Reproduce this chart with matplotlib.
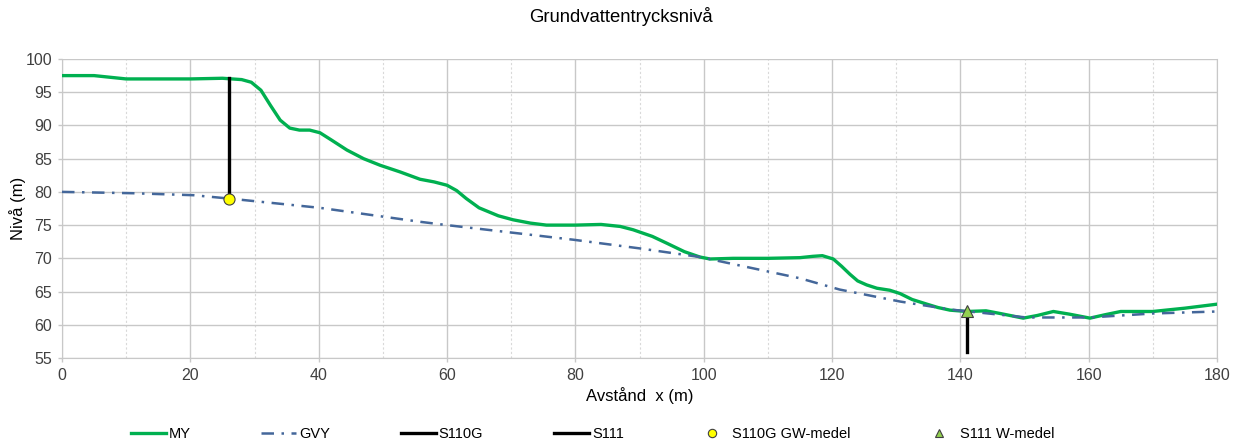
import matplotlib
matplotlib.use("Agg")
import matplotlib.pyplot as plt
from matplotlib.lines import Line2D

plt.rcParams['font.family'] = ['Liberation Sans', 'DejaVu Sans']

# MY (ground surface)
my_x = [0, 5, 10, 15, 20, 25, 28, 29.5, 31, 32.5, 34, 35.5, 37, 38.6, 40.2, 42, 44.4, 47, 49.6, 52.7, 55.8,
        58, 60, 61.5, 63, 65, 68, 70.3, 73, 75.5, 80, 84, 87, 89, 92, 94.2, 97, 99.4, 101, 104.6, 110, 115,
        117, 118.5, 120.2, 121.5, 122.8, 124, 125.4, 127, 129, 130.6, 132.5, 134.8, 136.5, 138.4, 141, 144, 146.2, 149.8,
        152, 154.5, 157, 160.2, 162.5, 165, 170, 175, 180]
my_y = [97.5, 97.5, 97.0, 97.0, 97.0, 97.1, 96.9, 96.5, 95.3, 93.0, 90.8, 89.6, 89.3, 89.3, 88.9, 87.8, 86.3, 85.0, 84.0, 83.0, 81.9,
        81.5, 81.0, 80.2, 79.0, 77.6, 76.4, 75.8, 75.3, 75.0, 75.0, 75.1, 74.8, 74.3, 73.3, 72.3, 71.0, 70.2, 69.9, 70.0, 70.0, 70.1,
        70.3, 70.4, 69.9, 68.8, 67.6, 66.6, 66.0, 65.5, 65.2, 64.7, 63.8, 63.1, 62.6, 62.2, 62.0, 62.1, 61.7, 61.0,
        61.4, 62.0, 61.6, 61.0, 61.5, 62.0, 62.0, 62.5, 63.1]

# GVY (groundwater level)
gvy_x = [0, 11, 20.5, 26, 40.2, 55.8, 60, 79.7, 90, 99.4, 115, 121.2, 130.6, 138.4, 150.3, 160.2, 170, 180]
gvy_y = [80.0, 79.8, 79.5, 79.0, 77.6, 75.5, 75.0, 72.8, 71.5, 70.2, 67.0, 65.3, 63.5, 62.3, 61.1, 61.1, 61.7, 62.0]

# Boreholes
s110g_x = [26, 26]
s110g_y = [79.0, 97.1]
s111_x = [141, 141]
s111_y = [55.9, 62.0]
s110g_gw_x = [26]
s110g_gw_y = [79.0]
s111_w_x = [141]
s111_w_y = [62.0]

x_ticks = [0, 20, 40, 60, 80, 100, 120, 140, 160, 180]
y_ticks = [55, 60, 65, 70, 75, 80, 85, 90, 95, 100]

fig = plt.figure(figsize=(12.42, 4.43), dpi=100)
ax = fig.add_axes([62/1242, 1-358/443, (1217-62)/1242, (358-59)/443])

ax.set_xlim(0, 180)
ax.set_ylim(55, 100)
ax.set_xticks(x_ticks)
ax.set_xticks(range(10, 180, 20), minor=True)
ax.set_yticks(y_ticks)
ax.grid(which='major', color='#c8c8c8', linewidth=1.0)
ax.grid(which='minor', axis='x', color='#d9d9d9', linewidth=0.8, linestyle=(0, (2, 2)))
ax.tick_params(which='major', length=3, width=1.0, color='#c8c8c8', labelsize=11.5,
               labelcolor='#404040', pad=4)
ax.tick_params(which='minor', length=0)
for s in ax.spines.values():
    s.set_color('#c8c8c8')
ax.spines['top'].set_visible(False)
ax.set_axisbelow(True)

ax.plot(my_x, my_y, color='#00b050', linewidth=2.4, solid_joinstyle='round', solid_capstyle='round', zorder=3)
ax.plot(gvy_x, gvy_y, color='#44679a', linewidth=1.8, linestyle=(0, (5, 3, 1, 3)), zorder=3)
ax.plot(s110g_x, s110g_y, color='black', linewidth=2.4, zorder=4)
ax.plot(s111_x, s111_y, color='black', linewidth=2.4, zorder=4)
ax.plot(s110g_gw_x, s110g_gw_y, linestyle='none', marker='o', markersize=8,
        markerfacecolor='#ffff00', markeredgecolor='#404040', markeredgewidth=0.8, zorder=5)
ax.plot(s111_w_x, s111_w_y, linestyle='none', marker='^', markersize=9,
        markerfacecolor='#92d050', markeredgecolor='#404040', markeredgewidth=0.8, zorder=5)

fig.text(621/1242, 1-17/443, 'Grundvattentrycksnivå', ha='center', va='center', fontsize=13.3, color='black')
ax.set_xlabel('Avstånd  x (m)', fontsize=12, color='black', labelpad=3)
ax.set_ylabel('Nivå (m)', fontsize=12, color='black', labelpad=0)

handles = [
    Line2D([], [], color='#00b050', linewidth=2.4),
    Line2D([], [], color='#44679a', linewidth=1.8, linestyle=(0, (5, 3, 1, 3))),
    Line2D([], [], color='black', linewidth=2.4),
    Line2D([], [], color='black', linewidth=2.4),
    Line2D([], [], linestyle='none', marker='o', markersize=6, markerfacecolor='#ffff00',
           markeredgecolor='#404040', markeredgewidth=0.8),
    Line2D([], [], linestyle='none', marker='^', markersize=6, markerfacecolor='#92d050',
           markeredgecolor='#404040', markeredgewidth=0.8),
]
labels = ['MY', 'GVY', 'S110G', 'S111', 'S110G GW-medel', 'S111 W-medel']
fig.legend(handles, labels, loc='center', bbox_to_anchor=(0.477, 1-434/443), ncol=6,
           frameon=False, fontsize=10.5, handlelength=2.4, handletextpad=0.2, columnspacing=4.85)

fig.savefig('out.png', dpi=100)
